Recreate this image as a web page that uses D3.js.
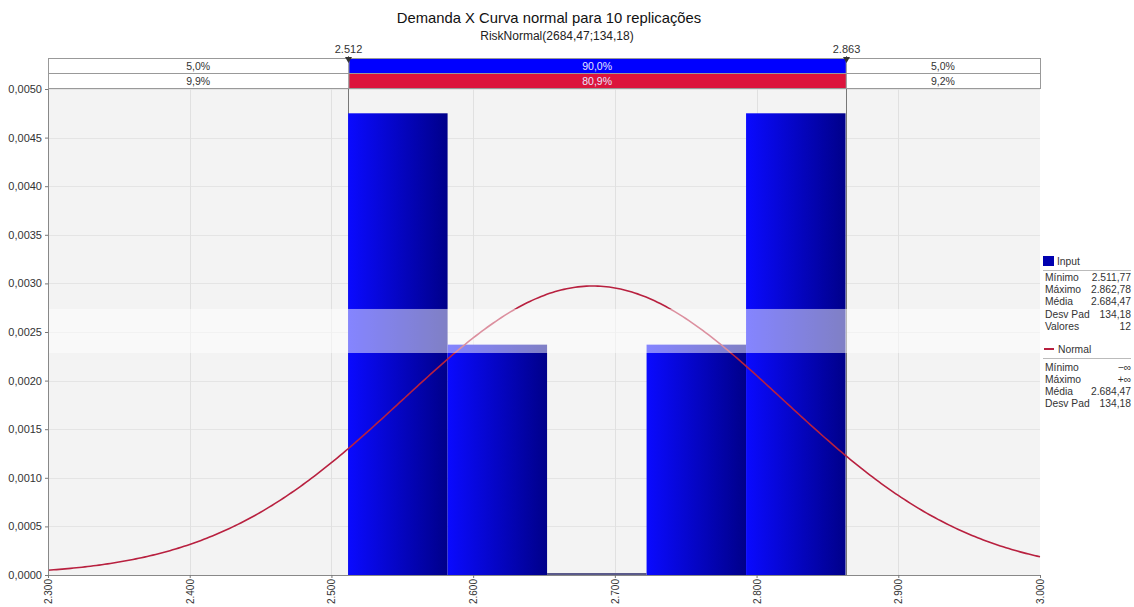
<!DOCTYPE html>
<html>
<head>
<meta charset="utf-8">
<script src="https://cdn.jsdelivr.net/npm/d3@7"></script>
<style>
  body { margin: 0; background: #fff; }
  svg { display: block; font-family: "Liberation Sans", Arial, sans-serif; }
</style>
</head>
<body>
<div id="chart"></div>
<script>
// Histogram bins (edges in demand units) and density heights
const binEdges = [2511.77, 2581.97, 2652.17, 2722.38, 2792.58, 2862.78];
const binDensity = [0.00475, 0.00237, 0, 0.00237, 0.00475];

// Fitted normal parameters (RiskNormal)
const normalMean = 2684.47;
const normalSd = 134.18;

// Delimiters and their probability labels
const delimiters = [2512, 2863];
const inputPercents = ["5,0%", "90,0%", "5,0%"];
const normalPercents = ["9,9%", "80,9%", "9,2%"];

const xTicks = [2300, 2400, 2500, 2600, 2700, 2800, 2900, 3000];
const yTicks = [0, 0.0005, 0.001, 0.0015, 0.002, 0.0025, 0.003, 0.0035, 0.004, 0.0045, 0.005];

const inputStats = [["Mínimo", "2.511,77"], ["Máximo", "2.862,78"], ["Média", "2.684,47"], ["Desv Pad", "134,18"], ["Valores", "12"]];
const normalStats = [["Mínimo", "\u2212\u221e"], ["Máximo", "+\u221e"], ["Média", "2.684,47"], ["Desv Pad", "134,18"]];

const W = 1134, H = 607;
const plot = {left: 48, right: 1040, top: 89, bottom: 575};

const locale = d3.formatLocale({decimal: ",", thousands: ".", grouping: [3], currency: ["R$", ""]});
const fx = locale.format(",.0f");
const fy = locale.format(".4f");

const x = d3.scaleLinear().domain([2300, 3000]).range([plot.left, plot.right]);
const y = d3.scaleLinear().domain([0, 0.005]).range([plot.bottom, plot.top]);

const svg = d3.select("#chart").append("svg").attr("width", W).attr("height", H);

const defs = svg.append("defs");
const grad = defs.append("linearGradient").attr("id", "barGrad")
  .attr("x1", "0%").attr("x2", "100%").attr("y1", "0%").attr("y2", "0%");
grad.append("stop").attr("offset", "0%").attr("stop-color", "#0a0aff");
grad.append("stop").attr("offset", "100%").attr("stop-color", "#00008a");

// Titles
svg.append("text").attr("x", 549).attr("y", 23).attr("text-anchor", "middle")
  .attr("font-size", 14.8).attr("fill", "#111").text("Demanda X Curva normal para 10 replicações");
svg.append("text").attr("x", 557).attr("y", 40).attr("text-anchor", "middle")
  .attr("font-size", 12).attr("fill", "#222").text("RiskNormal(2684,47;134,18)");

// Plot background
svg.append("rect").attr("x", plot.left).attr("y", plot.top)
  .attr("width", plot.right - plot.left).attr("height", plot.bottom - plot.top).attr("fill", "#f3f3f3");

// Grid
svg.append("g").selectAll("line").data(yTicks.slice(1)).join("line")
  .attr("x1", plot.left).attr("x2", plot.right)
  .attr("y1", d => Math.round(y(d)) + 0.5).attr("y2", d => Math.round(y(d)) + 0.5)
  .attr("stroke", "#e4e4e4");
svg.append("g").selectAll("line").data(xTicks.slice(1, -1)).join("line")
  .attr("y1", plot.top).attr("y2", plot.bottom)
  .attr("x1", d => Math.round(x(d)) + 0.5).attr("x2", d => Math.round(x(d)) + 0.5)
  .attr("stroke", "#e0e0e0");

// Delimiter lines
svg.append("g").selectAll("line").data(delimiters).join("line")
  .attr("x1", d => Math.round(x(d)) + 0.5).attr("x2", d => Math.round(x(d)) + 0.5)
  .attr("y1", 56).attr("y2", plot.bottom)
  .attr("stroke", "#777");

// Histogram bars
const bins = binDensity.map((v, i) => ({x0: binEdges[i], x1: binEdges[i + 1], v}));
svg.append("g").selectAll("rect").data(bins.filter(b => b.v > 0)).join("rect")
  .attr("x", d => x(d.x0)).attr("width", d => x(d.x1) - x(d.x0))
  .attr("y", d => y(d.v)).attr("height", d => y(0) - y(d.v))
  .attr("fill", "url(#barGrad)");
svg.append("g").selectAll("line").data(bins.filter(b => b.v === 0)).join("line")
  .attr("x1", d => x(d.x0)).attr("x2", d => x(d.x1))
  .attr("y1", y(0) - 1).attr("y2", y(0) - 1)
  .attr("stroke", "#5a5a8a").attr("stroke-width", 2);

// Normal curve
const pdf = v => Math.exp(-0.5 * ((v - normalMean) / normalSd) ** 2) / (normalSd * Math.sqrt(2 * Math.PI));
const curveX = d3.range(2300, 3000.1, 2);
svg.append("path").datum(curveX)
  .attr("d", d3.line().x(d => x(d)).y(d => y(pdf(d))))
  .attr("fill", "none").attr("stroke", "#b8203f").attr("stroke-width", 1.6);

// Light translucent band
svg.append("rect").attr("x", plot.left).attr("width", plot.right - plot.left)
  .attr("y", y(0.002737)).attr("height", y(0.002284) - y(0.002737))
  .attr("fill", "#fff").attr("opacity", 0.5);

// Axes lines
svg.append("line").attr("x1", plot.left + 0.5).attr("x2", plot.left + 0.5)
  .attr("y1", plot.top).attr("y2", plot.bottom + 0.5).attr("stroke", "#888");
svg.append("line").attr("x1", plot.left).attr("x2", plot.right)
  .attr("y1", plot.bottom + 0.5).attr("y2", plot.bottom + 0.5).attr("stroke", "#888");

// Y axis
const yAxis = d3.axisLeft(y).tickValues(yTicks).tickFormat(fy).tickSize(3).tickPadding(3);
const gy = svg.append("g").attr("transform", `translate(${plot.left},0)`).call(yAxis);
gy.select(".domain").remove();
gy.selectAll("line").attr("stroke", "#777");
gy.selectAll("text").attr("font-size", 11).attr("fill", "#333").attr("font-family", "Liberation Sans, Arial");

// X axis
const xAxis = d3.axisBottom(x).tickValues(xTicks).tickFormat(fx).tickSize(3);
const gx = svg.append("g").attr("transform", `translate(0,${plot.bottom})`).call(xAxis);
gx.select(".domain").remove();
gx.selectAll("line").attr("stroke", "#777");
gx.selectAll("text")
  .attr("font-size", 10).attr("fill", "#333").attr("font-family", "Liberation Sans, Arial")
  .attr("transform", "rotate(-90)").attr("text-anchor", "end")
  .attr("x", -4).attr("y", 0).attr("dy", "0.35em");

// Probability bands at top
const segEdges = [plot.left, x(delimiters[0]), x(delimiters[1]), plot.right];
const rows = [
  {y: 58, h: 15, labels: inputPercents, mid: "#0000ff"},
  {y: 73, h: 15, labels: normalPercents, mid: "#dc143c"}
];
rows.forEach(r => {
  const g = svg.append("g");
  r.labels.forEach((lab, i) => {
    const x0 = segEdges[i], x1 = segEdges[i + 1];
    g.append("rect").attr("x", x0 + 0.5).attr("y", r.y + 0.5).attr("width", x1 - x0).attr("height", r.h)
      .attr("fill", i === 1 ? r.mid : "#fff").attr("stroke", "#999");
    g.append("text").attr("x", (x0 + x1) / 2).attr("y", r.y + 11.5).attr("text-anchor", "middle")
      .attr("font-size", 10.5).attr("fill", i === 1 ? "#e6e6ff" : "#333").text(lab);
  });
});

// Delimiter markers and labels
const mk = svg.append("g").selectAll("g").data(delimiters).join("g")
  .attr("transform", d => `translate(${Math.round(x(d)) + 0.5},0)`);
mk.append("path").attr("d", "M-3.5,57 L3.5,57 L0,63 Z").attr("fill", "#333");
mk.append("text").attr("y", 53).attr("text-anchor", "middle").attr("font-size", 11)
  .attr("fill", "#333").text(d => fx(d));

// Legend
const lg = svg.append("g").attr("transform", "translate(1043,0)").attr("font-size", 10.3).attr("fill", "#333");
lg.append("rect").attr("x", 0).attr("y", 256).attr("width", 11).attr("height", 10).attr("fill", "#0000b0");
lg.append("text").attr("x", 14).attr("y", 265).text("Input");
lg.append("line").attr("x1", 0).attr("x2", 88).attr("y1", 270.5).attr("y2", 270.5).attr("stroke", "#bbb");
inputStats.forEach((s, i) => {
  lg.append("text").attr("x", 2).attr("y", 281 + i * 12.2).text(s[0]);
  lg.append("text").attr("x", 88).attr("y", 281 + i * 12.2).attr("text-anchor", "end").text(s[1]);
});
lg.append("line").attr("x1", 1).attr("x2", 11).attr("y1", 349).attr("y2", 349).attr("stroke", "#b8203f").attr("stroke-width", 2);
lg.append("text").attr("x", 15).attr("y", 353).text("Normal");
lg.append("line").attr("x1", 0).attr("x2", 88).attr("y1", 358.5).attr("y2", 358.5).attr("stroke", "#bbb");
normalStats.forEach((s, i) => {
  lg.append("text").attr("x", 2).attr("y", 371 + i * 12).text(s[0]);
  lg.append("text").attr("x", 88).attr("y", 371 + i * 12).attr("text-anchor", "end").text(s[1]);
});
</script>
</body>
</html>
